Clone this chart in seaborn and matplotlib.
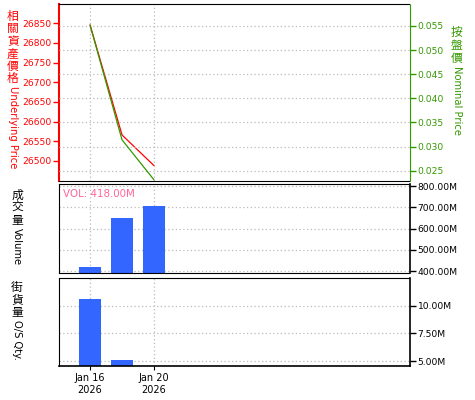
import numpy as np
import pandas as pd
import matplotlib
matplotlib.use("Agg")
import matplotlib.pyplot as plt
from matplotlib.ticker import FixedLocator, FuncFormatter
import seaborn as sns

# values (trading days: Jan 16, Jan 19, Jan 20)
day_idx = [0, 1, 2]
tick_idx = [0, 2]
tick_labels = ["Jan 16\n2026", "Jan 20\n2026"]
underlying = [26846, 26566, 26488]
nominal = [0.0552, 0.0314, 0.0231]
volume = [418e6, 650e6, 708e6]
os_qty = [10.6e6, 5.09e6, np.nan]

price_df = pd.DataFrame({"idx": day_idx, "underlying": underlying, "nominal": nominal})
vol_df = pd.DataFrame({"idx": day_idx, "volume": volume})
qty_df = pd.DataFrame({"idx": day_idx, "qty": os_qty}).dropna()

sns.set_style("white")
plt.rcParams["font.family"] = ["DejaVu Sans", "Noto Sans CJK TC"]

W, H = 475, 400
fig = plt.figure(figsize=(4.75, 4.0), dpi=100)


def box(top, bottom, left=59, right=410):
    return [left / W, 1 - bottom / H, (right - left) / W, (bottom - top) / H]


ax = fig.add_axes(box(4, 181))
ax_r = ax.twinx()
ax_v = fig.add_axes(box(184, 273))
ax_q = fig.add_axes(box(278, 366))

RED = "#ff0000"
GREEN = "#339900"
BLUE = "#3366ff"
GRID = dict(color="#bbbbbb", linestyle=(0, (1, 2)), linewidth=0.9)
DOT = (0, (1, 1))
xlim = (-0.97, 10.0)
fs = 6.6

# main panel
sns.lineplot(data=price_df, x="idx", y="underlying", ax=ax, color=RED, linewidth=0.9)
sns.lineplot(data=price_df, x="idx", y="nominal", ax=ax_r, color=GREEN, linewidth=0.9)
ax.set_xlim(*xlim)
ax.set_ylim(26449, 26899)
ax_r.set_ylim(0.02287, 0.05956)
ax.set_yticks(np.arange(26500, 26851, 50))
ax_r.set_yticks(np.arange(0.025, 0.0551, 0.005))
ax_r.yaxis.set_major_formatter(FuncFormatter(lambda v, p: f"{v:.3f}"))
ax.tick_params(axis="y", colors=RED, labelcolor=RED, labelsize=fs, length=4, width=1,
               direction="out", left=True, pad=1.5)
ax_r.tick_params(axis="y", colors=GREEN, labelcolor=GREEN, labelsize=fs, length=4, width=1,
                 direction="out", right=True, pad=1.5)
ax.set_ylabel("")
ax_r.set_ylabel("")
ax.set_xlabel("")
ax.xaxis.set_major_locator(FixedLocator(tick_idx))
ax.tick_params(axis="x", bottom=False, labelbottom=False)
ax.grid(axis="x", **GRID)
ax_r.grid(axis="y", **GRID)
ax.set_axisbelow(True)
for s in ["top", "bottom"]:
    ax.spines[s].set_linestyle(DOT)
    ax.spines[s].set_color("black")
    ax_r.spines[s].set_visible(False)
ax.spines["left"].set_color(RED)
ax.spines["left"].set_linewidth(1.5)
ax.spines["right"].set_visible(False)
ax_r.spines["left"].set_visible(False)
ax_r.spines["right"].set_color(GREEN)
ax_r.spines["right"].set_linestyle(DOT)

# volume panel
sns.barplot(data=vol_df, x="idx", y="volume", ax=ax_v, color=BLUE, native_scale=True,
            width=0.7, saturation=1, edgecolor="none")
ax_v.set_xlim(*xlim)
ax_v.set_ylim(391e6, 810e6)
ax_v.set_yticks(np.arange(400e6, 800.1e6, 100e6))
fig.text(63 / W, 1 - 194 / H, "VOL: 418.00M", color="#ff6699", fontsize=fs + 0.8,
         va="center", ha="left")

# qty panel
sns.barplot(data=qty_df, x="idx", y="qty", ax=ax_q, color=BLUE, native_scale=True,
            width=0.7, saturation=1, edgecolor="none")
ax_q.set_xlim(*xlim)
ax_q.set_ylim(4.55e6, 12.5e6)
ax_q.set_yticks([5e6, 7.5e6, 10e6])

for a in (ax_v, ax_q):
    a.yaxis.tick_right()
    a.yaxis.set_major_formatter(FuncFormatter(lambda v, p: f"{v / 1e6:.2f}M"))
    a.tick_params(axis="y", colors="black", labelsize=fs, length=4, width=1, direction="out",
                  right=True, left=False, pad=1.5)
    a.set_xlabel("")
    a.set_ylabel("")
    a.xaxis.set_major_locator(FixedLocator(tick_idx))
    a.grid(axis="both", **GRID)
    a.set_axisbelow(True)
    for s in ["top", "left"]:
        a.spines[s].set_linestyle(DOT)
        a.spines[s].set_color("black")
    a.spines["right"].set_color("black")
    a.spines["right"].set_linewidth(1.2)

ax_v.spines["bottom"].set_linestyle(DOT)
ax_v.spines["bottom"].set_color("black")
ax_v.tick_params(axis="x", bottom=False, labelbottom=False)
ax_q.spines["bottom"].set_color("black")
ax_q.spines["bottom"].set_linewidth(1.2)
ax_q.set_xticklabels(tick_labels)
ax_q.tick_params(axis="x", bottom=True, length=3, direction="out", labelsize=fs + 0.4,
                 colors="black", pad=2)


def vlabel(xc, y0, cjk, latin, color, step=12.5):
    # CJK characters stay upright, stacked; latin part is turned to read downwards
    y = y0
    for ch in cjk:
        fig.text(xc / W, 1 - (y + step / 2) / H, ch, color=color, fontsize=8.5,
                 family="Noto Sans CJK TC", ha="center", va="center")
        y += step
    fig.text(xc / W, 1 - (y + 1) / H, latin, color=color, fontsize=7.2, rotation=270,
             ha="center", va="top")


vlabel(13, 10, "相關資產價格", "Underlying Price", RED)
vlabel(457, 26, "按盤價", "Nominal Price", GREEN, step=13)
vlabel(17, 189, "成交量", "Volume", "black", step=12.5)
vlabel(17, 281, "街貨量", "O/S Qty.", "black", step=12.5)

fig.savefig("out.png", dpi=100)
